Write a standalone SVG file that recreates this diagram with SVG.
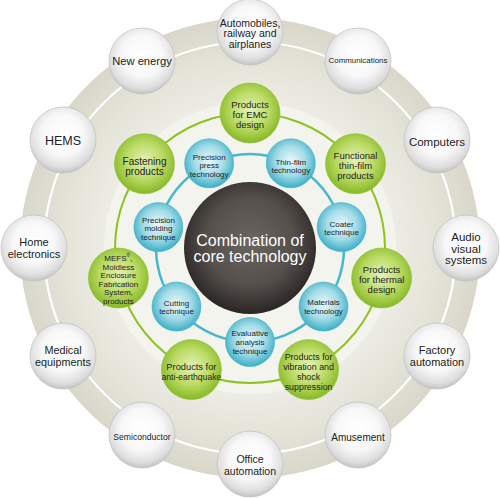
<svg xmlns="http://www.w3.org/2000/svg" width="500" height="498" viewBox="0 0 500 498">
<defs>
<radialGradient id="bgOuter" gradientUnits="userSpaceOnUse" cx="250" cy="248" r="230">
<stop offset="0.6" stop-color="#efeee7"/>
<stop offset="0.8" stop-color="#e5e4d9"/>
<stop offset="1" stop-color="#d8d7ca"/>
</radialGradient>
<radialGradient id="gGray" cx="50%" cy="42%" r="62%">
<stop offset="0" stop-color="#ffffff"/>
<stop offset="0.5" stop-color="#f8f8f8"/>
<stop offset="0.8" stop-color="#dedede"/>
<stop offset="1" stop-color="#b5b5b5"/>
</radialGradient>
<radialGradient id="gGreen" cx="50%" cy="45%" r="55%">
<stop offset="0" stop-color="#e6f2b8"/>
<stop offset="0.55" stop-color="#bcdb66"/>
<stop offset="1" stop-color="#86b925"/>
</radialGradient>
<radialGradient id="gBlue" cx="50%" cy="45%" r="55%">
<stop offset="0" stop-color="#eaf8fb"/>
<stop offset="0.55" stop-color="#a4dce7"/>
<stop offset="1" stop-color="#3cafc7"/>
</radialGradient>
<radialGradient id="gDark" cx="50%" cy="45%" r="55%">
<stop offset="0" stop-color="#6a6561"/>
<stop offset="0.6" stop-color="#55504c"/>
<stop offset="1" stop-color="#2a2624"/>
</radialGradient>
</defs>
<style>
text{font-family:"Liberation Sans",Arial,sans-serif;fill:#222;text-anchor:middle}
.gray circle{fill:url(#gGray);stroke:#c4c4c4;stroke-width:0.8}
.green circle{fill:url(#gGreen);stroke:#8fbd33;stroke-width:0.6}
.blue circle{fill:url(#gBlue);stroke:#3fb0c6;stroke-width:0.6}
.ring{fill:none}
</style>
<rect width="500" height="498" fill="#ffffff"/>
<circle cx="250" cy="248" r="230" fill="url(#bgOuter)"/>
<circle cx="250" cy="248" r="206" fill="none" stroke="#ffffff" stroke-width="2.2"/>
<circle cx="250" cy="248" r="146" fill="#f4f4ee"/>
<g id="connectors">
<circle class="ring" cx="250" cy="248" r="135" stroke="#8dc21f" stroke-width="2"/>
<circle class="ring" cx="250" cy="248" r="94" stroke="#45b8cf" stroke-width="2.5"/>
</g>
<g id="center">
<circle cx="250" cy="248" r="66" fill="url(#gDark)"/>
<text x="250" y="246" font-size="16" style="fill:#ffffff">Combination of</text>
<text x="250" y="262" font-size="16" style="fill:#ffffff">core technology</text>
</g>
<g id="n-automobiles" class="gray"><circle cx="250" cy="32" r="33"/>
<text x="250" y="26.5" font-size="10.5">Automobiles,</text><text x="250" y="37" font-size="10.5">railway and</text><text x="250" y="47.5" font-size="10.5">airplanes</text></g>
<g id="n-communications" class="gray"><circle cx="358" cy="61" r="33"/>
<text x="358" y="63" font-size="7.9">Communications</text></g>
<g id="n-computers" class="gray"><circle cx="437" cy="140" r="33"/>
<text x="437" y="146" font-size="11.5">Computers</text></g>
<g id="n-audio" class="gray"><circle cx="466" cy="248" r="33"/>
<text x="466" y="241" font-size="11.5">Audio</text><text x="466" y="252.5" font-size="11.5">visual</text><text x="466" y="264" font-size="11.5">systems</text></g>
<g id="n-factory" class="gray"><circle cx="437" cy="356" r="33"/>
<text x="437" y="354" font-size="11">Factory</text><text x="437" y="366" font-size="11">automation</text></g>
<g id="n-amusement" class="gray"><circle cx="358" cy="435" r="33"/>
<text x="358" y="440.5" font-size="10">Amusement</text></g>
<g id="n-office" class="gray"><circle cx="250" cy="464" r="33"/>
<text x="250" y="463" font-size="10.5">Office</text><text x="250" y="475" font-size="10.5">automation</text></g>
<g id="n-semiconductor" class="gray"><circle cx="142" cy="435" r="33"/>
<text x="142" y="440" font-size="8.6">Semiconductor</text></g>
<g id="n-medical" class="gray"><circle cx="63" cy="356" r="33"/>
<text x="63" y="354" font-size="10.8">Medical</text><text x="63" y="366" font-size="10.8">equipments</text></g>
<g id="n-home" class="gray"><circle cx="34" cy="248" r="33"/>
<text x="34" y="246" font-size="11">Home</text><text x="34" y="257.5" font-size="11">electronics</text></g>
<g id="n-hems" class="gray"><circle cx="63" cy="140" r="33"/>
<text x="63" y="144.5" font-size="12.5">HEMS</text></g>
<g id="n-newenergy" class="gray"><circle cx="142" cy="61" r="33"/>
<text x="142" y="65" font-size="11.2">New energy</text></g>
<g id="p-emc" class="green"><circle cx="250" cy="113" r="30"/>
<text x="250" y="108" font-size="9.5">Products</text><text x="250" y="118" font-size="9.5">for EMC</text><text x="250" y="128" font-size="9.5">design</text></g>
<g id="p-functional" class="green"><circle cx="355.5" cy="163.7" r="30"/>
<text x="355.5" y="158.5" font-size="9.5">Functional</text><text x="355.5" y="168.5" font-size="9.5">thin-film</text><text x="355.5" y="178.5" font-size="9.5">products</text></g>
<g id="p-thermal" class="green"><circle cx="381.6" cy="278" r="30"/>
<text x="381.6" y="272.5" font-size="9.5">Products</text><text x="381.6" y="282.5" font-size="9.5">for thermal</text><text x="381.6" y="292.5" font-size="9.5">design</text></g>
<g id="p-vibration" class="green"><circle cx="308.6" cy="369.6" r="30"/>
<text x="308.6" y="360" font-size="8.9">Products for</text><text x="308.6" y="370" font-size="8.9">vibration and</text><text x="308.6" y="380" font-size="8.9">shock</text><text x="308.6" y="390" font-size="8.9">suppression</text></g>
<g id="p-antiearthquake" class="green"><circle cx="191.4" cy="369.6" r="30"/>
<text x="191.4" y="369.5" font-size="9.3">Products for</text><text x="191.4" y="379.5" font-size="8.6">anti-earthquake</text></g>
<g id="p-mefs" class="green"><circle cx="118.4" cy="278" r="30"/>
<text x="118.4" y="260.5" font-size="8">MEFS<tspan font-size="5" dy="-3.5">®</tspan><tspan dy="3.5">,</tspan></text>
<text x="118.4" y="269.5" font-size="8">Moldless</text><text x="118.4" y="278" font-size="8">Enclosure</text><text x="118.4" y="286.5" font-size="8">Fabrication</text><text x="118.4" y="295" font-size="8">System,</text><text x="118.4" y="303.5" font-size="8">products</text></g>
<g id="p-fastening" class="green"><circle cx="144.5" cy="163.7" r="30"/>
<text x="144.5" y="164.5" font-size="10">Fastening</text><text x="144.5" y="174.5" font-size="10">products</text></g>
<g id="t-evaluative" class="blue"><circle cx="250" cy="342" r="24.5"/>
<text x="250" y="336" font-size="8">Evaluative</text><text x="250" y="344.8" font-size="8">analysis</text><text x="250" y="353.6" font-size="8">technique</text></g>
<g id="t-cutting" class="blue"><circle cx="176.5" cy="306.6" r="24.5"/>
<text x="176.5" y="305.5" font-size="8">Cutting</text><text x="176.5" y="313.8" font-size="8">technique</text></g>
<g id="t-molding" class="blue"><circle cx="158.4" cy="227.1" r="24.5"/>
<text x="158.4" y="223" font-size="8">Precision</text><text x="158.4" y="231.3" font-size="8">molding</text><text x="158.4" y="239.6" font-size="8">technique</text></g>
<g id="t-press" class="blue"><circle cx="209.2" cy="163.3" r="24.5"/>
<text x="209.2" y="159.5" font-size="8">Precision</text><text x="209.2" y="168" font-size="8">press</text><text x="209.2" y="176.5" font-size="8">technology</text></g>
<g id="t-thinfilm" class="blue"><circle cx="290.8" cy="163.3" r="24.5"/>
<text x="290.8" y="164.5" font-size="8">Thin-film</text><text x="290.8" y="173" font-size="8">technology</text></g>
<g id="t-coater" class="blue"><circle cx="341.6" cy="227.1" r="24.5"/>
<text x="341.6" y="227" font-size="8">Coater</text><text x="341.6" y="235.3" font-size="8">technique</text></g>
<g id="t-materials" class="blue"><circle cx="323.5" cy="306.6" r="24.5"/>
<text x="323.5" y="305" font-size="8">Materials</text><text x="323.5" y="313.8" font-size="8">technology</text></g>
</svg>
